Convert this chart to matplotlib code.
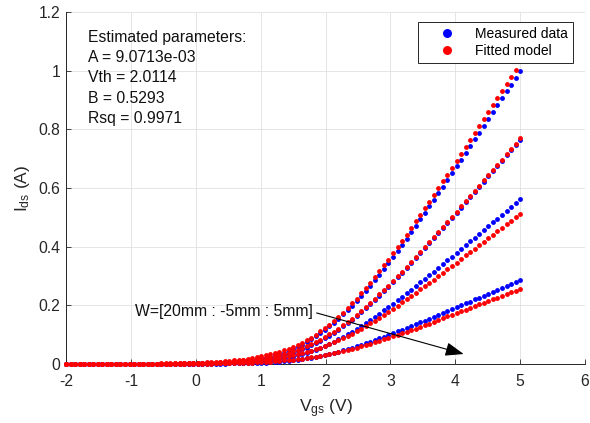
import numpy as np
import matplotlib
matplotlib.use("Agg")
import matplotlib.pyplot as plt
from matplotlib.patches import ArrowStyle

plt.rcParams['font.family'] = ['Liberation Sans', 'DejaVu Sans']
plt.rcParams['mathtext.fontset'] = 'custom'
plt.rcParams['mathtext.rm'] = 'Liberation Sans'
plt.rcParams['mathtext.it'] = 'Liberation Sans:italic'
plt.rcParams['axes.unicode_minus'] = False

# ---------------- data ----------------
vgs = np.linspace(-2.0, 5.0, 101)   # gate-source voltage sweep (V)
widths = ["20mm", "15mm", "10mm", "5mm"]

meas_20 = [0.000]*17 + [0.001]*9 + [0.002]*4 + [
    0.003, 0.003, 0.004, 0.004, 0.005, 0.006, 0.006, 0.007, 0.009, 0.010,
    0.012, 0.014, 0.016, 0.019, 0.022, 0.025, 0.029, 0.033, 0.039, 0.044,
    0.051, 0.058, 0.066, 0.075, 0.084, 0.094, 0.105, 0.117,
    0.129, 0.141, 0.155, 0.169, 0.183, 0.199, 0.215, 0.232, 0.249, 0.267,
    0.286, 0.305, 0.324, 0.344, 0.365, 0.385, 0.406, 0.427, 0.449, 0.471,
    0.493, 0.515, 0.537, 0.560, 0.582, 0.605, 0.628, 0.651, 0.674, 0.697,
    0.720, 0.743, 0.766, 0.789, 0.812, 0.836, 0.859, 0.882, 0.906, 0.929,
    0.952, 0.976, 0.999]
meas_15 = [0.000]*21 + [0.001]*8 + [0.002] + [
    0.002, 0.002, 0.003, 0.003, 0.004, 0.004, 0.005, 0.006, 0.007, 0.008,
    0.009, 0.010, 0.012, 0.014, 0.016, 0.019, 0.022, 0.025, 0.029, 0.033,
    0.038, 0.043, 0.050, 0.056, 0.064, 0.072, 0.079, 0.088,
    0.097, 0.106, 0.117, 0.128, 0.139, 0.151, 0.164, 0.177, 0.190, 0.204,
    0.218, 0.233, 0.248, 0.263, 0.279, 0.295, 0.311, 0.327, 0.343, 0.360,
    0.377, 0.394, 0.411, 0.428, 0.446, 0.463, 0.480, 0.498, 0.515, 0.533,
    0.551, 0.568, 0.586, 0.604, 0.622, 0.640, 0.657, 0.675, 0.693, 0.711,
    0.729, 0.747, 0.765]
meas_10 = [0.000]*24 + [0.001]*6 + [
    0.001, 0.002, 0.002, 0.002, 0.002, 0.003, 0.003, 0.004, 0.004, 0.005,
    0.006, 0.007, 0.008, 0.009, 0.011, 0.013, 0.015, 0.017, 0.019, 0.022,
    0.025, 0.029, 0.033, 0.038, 0.043, 0.048, 0.054, 0.061,
    0.068, 0.076, 0.084, 0.092, 0.101, 0.110, 0.120, 0.129, 0.139, 0.150,
    0.160, 0.171, 0.183, 0.194, 0.205, 0.217, 0.229, 0.241, 0.253, 0.265,
    0.278, 0.290, 0.303, 0.315, 0.328, 0.341, 0.354, 0.366, 0.379, 0.392,
    0.405, 0.418, 0.431, 0.444, 0.457, 0.470, 0.483, 0.496, 0.509, 0.522,
    0.535, 0.548, 0.561]
meas_5 = [0.000]*28 + [0.001]*8 + [
    0.002, 0.002, 0.002, 0.003, 0.003, 0.003, 0.004, 0.005, 0.005, 0.006,
    0.007, 0.008, 0.010, 0.011, 0.013, 0.015, 0.017, 0.019, 0.021, 0.024,
    0.027, 0.030,
    0.034, 0.038, 0.042, 0.047, 0.051, 0.056, 0.061, 0.066, 0.071, 0.076,
    0.082, 0.087, 0.093, 0.099, 0.105, 0.111, 0.117, 0.123, 0.129, 0.135,
    0.142, 0.148, 0.154, 0.161, 0.167, 0.174, 0.180, 0.187, 0.193, 0.200,
    0.207, 0.213, 0.220, 0.226, 0.233, 0.240, 0.246, 0.253, 0.260, 0.266,
    0.273, 0.280, 0.286]

fit_20 = [0.000]*12 + [0.001]*9 + [0.002]*4 + [0.003]*3 + [0.004]*2 + [
    0.005, 0.006, 0.006, 0.007, 0.008, 0.009, 0.011, 0.012, 0.014, 0.015,
    0.018, 0.020, 0.023, 0.026, 0.029, 0.033, 0.037, 0.041, 0.047, 0.052,
    0.059, 0.065, 0.073, 0.081, 0.090, 0.100, 0.111, 0.122, 0.134, 0.147,
    0.161, 0.175, 0.191, 0.207, 0.223, 0.241, 0.259, 0.277, 0.296, 0.316,
    0.336, 0.356, 0.377, 0.398, 0.420, 0.441, 0.463, 0.486, 0.508, 0.531,
    0.553, 0.576, 0.599, 0.623, 0.646, 0.669, 0.693, 0.716, 0.740, 0.763,
    0.787, 0.811, 0.834, 0.858, 0.882, 0.906, 0.930, 0.953, 0.977, 1.003,
    np.nan]
fit_15 = [0.000]*15 + [0.001]*9 + [0.002]*4 + [0.003]*2 + [
    0.004, 0.004, 0.005, 0.005, 0.006, 0.007, 0.008, 0.009, 0.010, 0.012,
    0.013, 0.015, 0.017, 0.019, 0.022, 0.024, 0.028, 0.031, 0.035, 0.039,
    0.044, 0.049, 0.055, 0.061, 0.068, 0.075, 0.083, 0.092, 0.101, 0.110,
    0.121, 0.132, 0.143, 0.155, 0.168, 0.181, 0.194, 0.208, 0.222, 0.237,
    0.252, 0.267, 0.283, 0.299, 0.315, 0.331, 0.347, 0.364, 0.381, 0.398,
    0.415, 0.432, 0.450, 0.467, 0.484, 0.502, 0.519, 0.537, 0.555, 0.572,
    0.590, 0.608, 0.626, 0.644, 0.661, 0.679, 0.697, 0.715, 0.733, 0.751,
    0.769]
fit_10 = [0.000]*19 + [0.001]*8 + [0.002]*3 + [
    0.002, 0.003, 0.003, 0.004, 0.004, 0.005, 0.005, 0.006, 0.007, 0.008,
    0.009, 0.010, 0.011, 0.013, 0.014, 0.016, 0.018, 0.021, 0.023, 0.026,
    0.029, 0.033, 0.037, 0.041, 0.045, 0.050, 0.055, 0.061, 0.067, 0.074,
    0.081, 0.088, 0.095, 0.103, 0.112, 0.120, 0.129, 0.139, 0.148, 0.158,
    0.168, 0.178, 0.188, 0.199, 0.210, 0.221, 0.232, 0.243, 0.254, 0.265,
    0.277, 0.288, 0.300, 0.311, 0.323, 0.335, 0.346, 0.358, 0.370, 0.382,
    0.393, 0.405, 0.417, 0.429, 0.441, 0.453, 0.465, 0.477, 0.489, 0.501,
    0.513]
fit_5 = [0.000]*25 + [0.001]*8 + [
    0.002, 0.002, 0.002, 0.003, 0.003, 0.003, 0.004, 0.004, 0.005, 0.006,
    0.006, 0.007, 0.008, 0.009, 0.010, 0.012, 0.013, 0.015, 0.016, 0.018,
    0.020, 0.023, 0.025, 0.028, 0.031, 0.034, 0.037, 0.040, 0.044, 0.048,
    0.052, 0.056, 0.060, 0.065, 0.069, 0.074, 0.079, 0.084, 0.089, 0.094,
    0.100, 0.105, 0.110, 0.116, 0.121, 0.127, 0.133, 0.138, 0.144, 0.150,
    0.156, 0.162, 0.167, 0.173, 0.179, 0.185, 0.191, 0.197, 0.203, 0.209,
    0.215, 0.221, 0.226, 0.232, 0.238, 0.244, 0.250, 0.256]

measured = [meas_20, meas_15, meas_10, meas_5]
fitted = [fit_20, fit_15, fit_10, fit_5]
for s in measured + fitted:
    assert len(s) == len(vgs), len(s)

param_lines = ["Estimated parameters:", "A = 9.0713e-03", "Vth = 2.0114",
               "B = 0.5293", "Rsq = 0.9971"]
arrow_label = "W=[" + widths[0] + " : -5mm : " + widths[-1] + "]"
legend_labels = ["Measured data", "Fitted model"]

# ---------------- figure ----------------
W_PX, H_PX = 590, 423
fig = plt.figure(figsize=(W_PX/100, H_PX/100), dpi=100)
ax = fig.add_axes([66/W_PX, 59/H_PX, 519/W_PX, 352/H_PX])

dark = '#262626'
h_meas = h_fit = None
for s in measured:
    h_meas, = ax.plot(vgs, s, 'o', color=(0, 0, 1), ms=3.5, mew=0,
                      clip_on=False, zorder=3)
for s in fitted:
    h_fit, = ax.plot(vgs, s, 'o', color=(1, 0, 0), ms=3.5, mew=0,
                     clip_on=False, zorder=4)

ax.set_xlim(-2, 6)
ax.set_ylim(0, 1.2)
ax.set_xticks(np.arange(-2, 7, 1))
ax.set_yticks([0, 0.2, 0.4, 0.6, 0.8, 1.0, 1.2])
ax.set_yticklabels(["0", "0.2", "0.4", "0.6", "0.8", "1", "1.2"])
ax.tick_params(direction='in', length=3.7, width=0.6, colors=dark,
               labelsize=11.3)
ax.tick_params(axis='x', pad=7)
ax.tick_params(axis='y', pad=4)
for side in ('top', 'right'):
    ax.spines[side].set_visible(False)
for side in ('left', 'bottom'):
    ax.spines[side].set_color(dark)
    ax.spines[side].set_linewidth(0.7)
ax.grid(True, color='#e0e0e0', lw=0.6)
ax.set_axisbelow(True)

ax.set_xlabel(r'V$_{\mathrm{gs}}$ (V)', fontsize=12.5, color=dark, labelpad=6)
ax.set_ylabel(r'I$_{\mathrm{ds}}$ (A)', fontsize=12.5, color=dark, labelpad=5)

ax.text(-1.66, 1.14, "\n".join(param_lines), fontsize=11.3, va='top',
        ha='left', linespacing=1.45, color='#111111', zorder=6)

ax.annotate(arrow_label, xy=(4.13, 0.034), xytext=(1.80, 0.178),
            ha='right', va='center', fontsize=11.3, color='#111111',
            arrowprops=dict(arrowstyle=ArrowStyle('-|>', head_length=0.75,
                                                  head_width=0.28),
                            color='k', lw=0.8, mutation_scale=15,
                            relpos=(1.0, 0.5), shrinkA=1, shrinkB=0),
            zorder=6)

leg = ax.legend([h_meas, h_fit], legend_labels, loc='upper right',
                bbox_to_anchor=(573/W_PX, (H_PX-22)/H_PX),
                bbox_transform=fig.transFigure, borderaxespad=0,
                fontsize=10, numpoints=1, markerscale=1.85,
                handlelength=3.5, handletextpad=0.3, borderpad=0.35,
                labelspacing=0.25, fancybox=False, framealpha=1,
                edgecolor=dark)
leg.get_frame().set_linewidth(0.7)
leg.set_zorder(7)

fig.savefig("out.png", dpi=100)
